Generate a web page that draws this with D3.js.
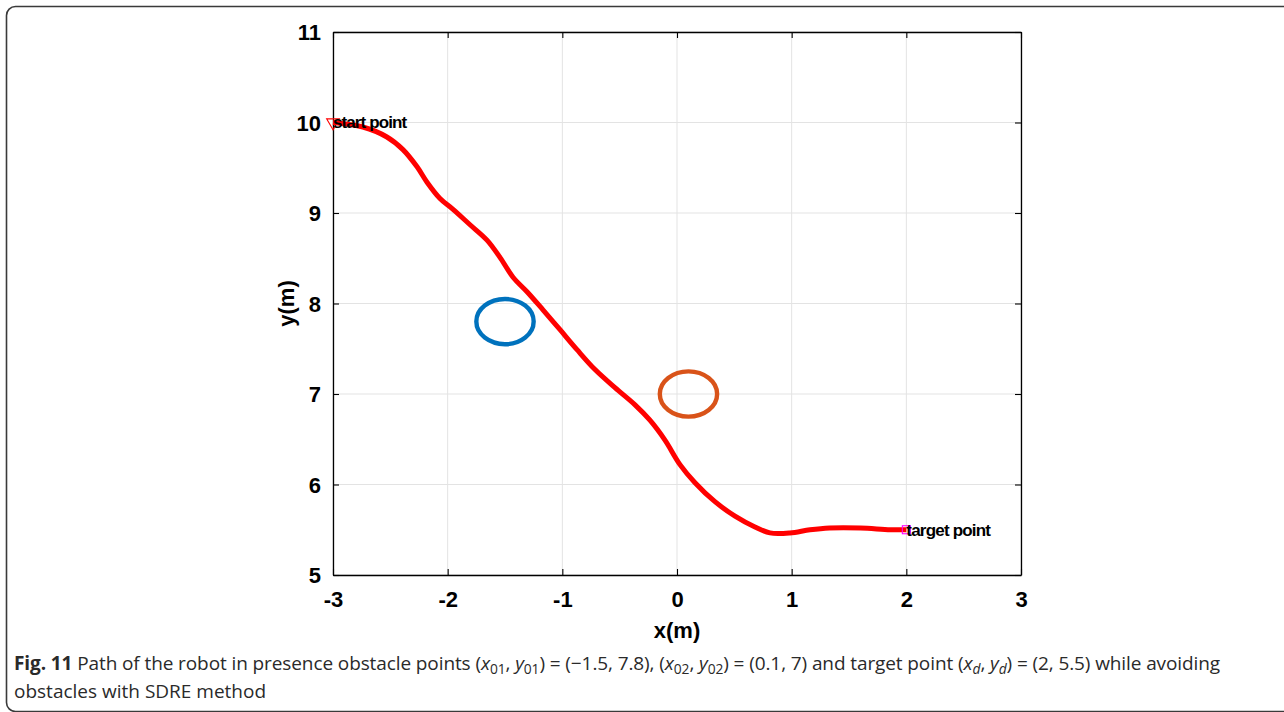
<!DOCTYPE html>
<html>
<head>
<meta charset="utf-8">
<script src="https://cdn.jsdelivr.net/npm/d3@7"></script>
<style>
  html, body { margin: 0; padding: 0; background: #fff; }
  svg { display: block; }
</style>
</head>
<body>
<svg id="fig" width="1284" height="712"></svg>
<script>
// Robot trajectory (SDRE controller), in metres
const pathX = [-3.0, -2.74, -2.53, -2.39, -2.267, -2.18, -2.067, -1.953, -1.805, -1.657, -1.544, -1.43, -1.308, -1.169, -1.02, -0.872, -0.715, -0.541, -0.366, -0.236, -0.105, 0.026, 0.157, 0.331, 0.506, 0.68, 0.811, 0.985, 1.16, 1.33, 1.6, 1.86, 2.0];
const pathY = [10.0, 9.95, 9.84, 9.70, 9.51, 9.34, 9.16, 9.04, 8.87, 8.70, 8.51, 8.29, 8.13, 7.93, 7.71, 7.49, 7.27, 7.07, 6.88, 6.71, 6.49, 6.22, 6.02, 5.81, 5.65, 5.53, 5.465, 5.465, 5.50, 5.52, 5.52, 5.50, 5.50];

// Obstacles: centres and radius
const obstacleNames = ["obstacle 1", "obstacle 2"];
const obstacleX = [-1.5, 0.1];
const obstacleY = [7.8, 7.0];
const obstacleR = [0.25, 0.25];
const obstacleColors = ["#0072BD", "#D95319"];

// Start and target points
const startPoint = [-3, 10];
const targetPoint = [2, 5.5];

// Axis ticks
const xTicks = [-3, -2, -1, 0, 1, 2, 3];
const yTicks = [5, 6, 7, 8, 9, 10, 11];

const svg = d3.select("#fig");

// Outer figure frame
svg.append("rect")
  .attr("x", 6.5).attr("y", 6.5)
  .attr("width", 1320).attr("height", 705)
  .attr("rx", 9).attr("ry", 9)
  .attr("fill", "none")
  .attr("stroke", "#3a3a3a")
  .attr("stroke-width", 1.6);

const plot = { left: 333, right: 1021, top: 32, bottom: 575 };

const x = d3.scaleLinear().domain([-3, 3]).range([plot.left, plot.right]);
const y = d3.scaleLinear().domain([5, 11]).range([plot.bottom, plot.top]);

const g = svg.append("g");

// Grid
g.append("g").selectAll("line").data(xTicks).join("line")
  .attr("x1", d => x(d)).attr("x2", d => x(d))
  .attr("y1", plot.top).attr("y2", plot.bottom)
  .attr("stroke", "#e3e3e3").attr("stroke-width", 1);
g.append("g").selectAll("line").data(yTicks).join("line")
  .attr("y1", d => y(d)).attr("y2", d => y(d))
  .attr("x1", plot.left).attr("x2", plot.right)
  .attr("stroke", "#e3e3e3").attr("stroke-width", 1);

const tickFont = "'Liberation Sans', Arial, Helvetica, sans-serif";
const fmt = d => String(d);  // plain hyphen-minus labels

// Axes with inward ticks
const xAxis = d3.axisBottom(x).tickValues(xTicks).tickFormat(fmt).tickSizeInner(-6).tickSizeOuter(0).tickPadding(14);
const yAxis = d3.axisLeft(y).tickValues(yTicks).tickFormat(fmt).tickSizeInner(-6).tickSizeOuter(0).tickPadding(12);

const gx = g.append("g").attr("transform", `translate(0,${plot.bottom})`).call(xAxis);
const gy = g.append("g").attr("transform", `translate(${plot.left},0)`).call(yAxis);
[gx, gy].forEach(a => {
  a.attr("font-size", null).attr("font-family", null);
  a.select(".domain").attr("stroke", "#000").attr("stroke-width", 1.3);
  a.selectAll(".tick line").attr("stroke", "#000").attr("stroke-width", 1.1);
  a.selectAll(".tick text")
    .attr("fill", "#000")
    .style("font-family", tickFont)
    .style("font-weight", "bold")
    .style("font-size", "22px");
});
gx.selectAll(".tick text").attr("dy", "0.8em");
gy.selectAll(".tick text").attr("dy", "0.35em");

// Top and right box edges with inward ticks
const gt = g.append("g").attr("transform", `translate(0,${plot.top})`)
  .call(d3.axisTop(x).tickValues(xTicks).tickFormat("").tickSizeInner(-6).tickSizeOuter(0));
const gr = g.append("g").attr("transform", `translate(${plot.right},0)`)
  .call(d3.axisRight(y).tickValues(yTicks).tickFormat("").tickSizeInner(-6).tickSizeOuter(0));
[gt, gr].forEach(a => {
  a.select(".domain").attr("stroke", "#000").attr("stroke-width", 1.3);
  a.selectAll(".tick line").attr("stroke", "#000").attr("stroke-width", 1.1);
});

// Axis titles
g.append("text")
  .attr("x", x(0)).attr("y", 638)
  .attr("text-anchor", "middle")
  .style("font-family", tickFont).style("font-weight", "bold").style("font-size", "22px")
  .text("x(m)");
g.append("text")
  .attr("transform", `translate(294,${y(8)}) rotate(-90)`)
  .attr("text-anchor", "middle")
  .style("font-family", tickFont).style("font-weight", "bold").style("font-size", "22px")
  .text("y(m)");

// Obstacles
const obstacles = obstacleNames.map((n, i) => ({ name: n, cx: obstacleX[i], cy: obstacleY[i], r: obstacleR[i], color: obstacleColors[i] }));
g.append("g").selectAll("ellipse").data(obstacles).join("ellipse")
  .attr("cx", d => x(d.cx)).attr("cy", d => y(d.cy))
  .attr("rx", d => x(d.cx + d.r) - x(d.cx))
  .attr("ry", d => y(d.cy) - y(d.cy + d.r))
  .attr("fill", "none")
  .attr("stroke", d => d.color)
  .attr("stroke-width", 4.4);

// Robot path
const pts = pathX.map((v, i) => [v, pathY[i]]);
const line = d3.line().x(d => x(d[0])).y(d => y(d[1])).curve(d3.curveCatmullRom.alpha(0.5));
g.append("path")
  .attr("d", line(pts))
  .attr("fill", "none")
  .attr("stroke", "#ff0000")
  .attr("stroke-width", 5)
  .attr("stroke-linejoin", "round")
  .attr("stroke-linecap", "butt");

// Start marker (downward triangle)
const sx = x(startPoint[0]), sy = y(startPoint[1]);
g.append("path")
  .attr("d", d3.symbol(d3.symbolTriangle, 70)())
  .attr("transform", `translate(${sx},${sy}) rotate(180)`)
  .attr("fill", "none").attr("stroke", "#ff0000").attr("stroke-width", 1.1);

// Target marker (square)
const tx = x(targetPoint[0]), ty = y(targetPoint[1]);
g.append("rect")
  .attr("x", tx - 4).attr("y", ty - 4).attr("width", 8).attr("height", 8)
  .attr("fill", "none").attr("stroke", "#ff00ff").attr("stroke-width", 1.1);

// Point labels
g.append("text").attr("x", sx).attr("y", sy).attr("dy", "0.35em")
  .style("font-family", tickFont).style("font-weight", "bold").style("font-size", "17px")
  .style("letter-spacing", "-0.9px")
  .text("start point");
g.append("text").attr("x", tx).attr("y", ty).attr("dy", "0.35em")
  .style("font-family", tickFont).style("font-weight", "bold").style("font-size", "17px")
  .style("letter-spacing", "-0.8px")
  .text("target point");

// Caption
const capFont = "'Open Sans', 'Noto Sans', sans-serif";
const cap = svg.append("text")
  .attr("x", 14).attr("y", 670)
  .style("font-family", capFont).style("font-size", "19px").attr("fill", "#2a2a2a")
  .style("letter-spacing", "-0.1px");
function seg(t, opts = {}) {
  const s = cap.append("tspan").text(t);
  if (opts.bold) s.style("font-weight", "bold");
  if (opts.italic) s.style("font-style", "italic");
  if (opts.sub) s.attr("baseline-shift", "-25%").style("font-size", "13.8px");
  return s;
}
seg("Fig. 11", { bold: true });
seg(" Path of the robot in presence obstacle points (");
seg("x", { italic: true }); seg("01", { sub: true }); seg(", ");
seg("y", { italic: true }); seg("01", { sub: true });
seg(") = (−1.5, 7.8), (");
seg("x", { italic: true }); seg("02", { sub: true }); seg(", ");
seg("y", { italic: true }); seg("02", { sub: true });
seg(") = (0.1, 7) and target point (");
seg("x", { italic: true }); seg("d", { sub: true, italic: true }); seg(", ");
seg("y", { italic: true }); seg("d", { sub: true, italic: true });
seg(") = (2, 5.5) while avoiding");

svg.append("text")
  .attr("x", 14).attr("y", 698)
  .style("font-family", capFont).style("font-size", "19px").attr("fill", "#2a2a2a")
  .style("letter-spacing", "0px")
  .text("obstacles with SDRE method");
</script>
</body>
</html>
